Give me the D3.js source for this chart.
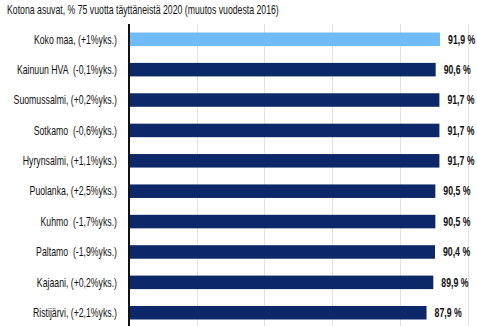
<!DOCTYPE html>
<html>
<head>
<meta charset="utf-8">
<script src="https://cdn.jsdelivr.net/npm/d3@7"></script>
<style>
  html, body { margin: 0; padding: 0; background: #fff; }
  svg { display: block; }
  text { font-family: "Liberation Sans", Arimo, sans-serif; fill: #111; white-space: pre; }
</style>
</head>
<body>
<svg id="chart" width="477" height="326"></svg>
<script>
// Osuudet kotona asuvista 75 vuotta täyttäneistä 2020
const categories = [
  "Koko maa, (+1%yks.)",
  "Kainuun HVA  (-0,1%yks.)",
  "Suomussalmi, (+0,2%yks.)",
  "Sotkamo  (-0,6%yks.)",
  "Hyrynsalmi, (+1,1%yks.)",
  "Puolanka, (+2,5%yks.)",
  "Kuhmo  (-1,7%yks.)",
  "Paltamo  (-1,9%yks.)",
  "Kajaani, (+0,2%yks.)",
  "Ristijärvi, (+2,1%yks.)"
];
const values = [91.9, 90.6, 91.7, 91.7, 91.7, 90.5, 90.5, 90.4, 89.9, 87.9];
const gridTicks = [0, 20, 40, 60, 80, 100];
const title = "Kotona asuvat, % 75 vuotta täyttäneistä 2020 (muutos vuodesta 2016)";

const svg = d3.select("#chart");
const margin = { left: 129, top: 24 };
const H = 326;
const fontSize = 12.2;

const x = d3.scaleLinear().domain([0, 100]).range([margin.left, 467.5]);
const y = d3.scaleBand().domain(categories).range([margin.top, 328]).paddingInner(0.555).paddingOuter(0.28);

// kapea kirjaintyyli: teksti puristetaan vaakasuunnassa
const narrow = 0.715;
const place = (px, py) => `translate(${px},${py}) scale(${narrow},1)`;

// otsikko
svg.append("text")
  .attr("transform", place(7, 14))
  .attr("font-size", fontSize)
  .text(title);

// pystysuuntaiset apuviivat
svg.append("g")
  .selectAll("line")
  .data(gridTicks.slice(1))
  .join("line")
  .attr("x1", d => Math.round(x(d)) + 0.5)
  .attr("x2", d => Math.round(x(d)) + 0.5)
  .attr("y1", margin.top)
  .attr("y2", H)
  .attr("stroke", "#e2e2e2")
  .attr("stroke-width", 1);

// palkit
svg.append("g")
  .selectAll("rect")
  .data(values)
  .join("rect")
  .attr("x", x(0) + 1)
  .attr("y", (d, i) => y(categories[i]))
  .attr("width", d => x(d) - x(0) - 1)
  .attr("height", y.bandwidth())
  .attr("fill", (d, i) => i === 0 ? "#70bcfb" : "#0d2868");

// pystyakseli
svg.append("line")
  .attr("x1", x(0)).attr("x2", x(0))
  .attr("y1", margin.top).attr("y2", H)
  .attr("stroke", "#111").attr("stroke-width", 2);

// luokkien nimet
svg.append("g")
  .selectAll("text")
  .data(categories)
  .join("text")
  .attr("transform", d => place(117, y(d) + y.bandwidth() / 2))
  .attr("dy", "0.35em")
  .attr("text-anchor", "end")
  .attr("font-size", fontSize)
  .text(d => d);

// arvot palkkien perässä
svg.append("g")
  .selectAll("text")
  .data(values)
  .join("text")
  .attr("transform", (d, i) => place(x(d) + 8, y(categories[i]) + y.bandwidth() / 2))
  .attr("dy", "0.35em")
  .attr("font-size", fontSize)
  .attr("font-weight", "bold")
  .text(d => d3.format(".1f")(d).replace(".", ",") + " %");
</script>
</body>
</html>
